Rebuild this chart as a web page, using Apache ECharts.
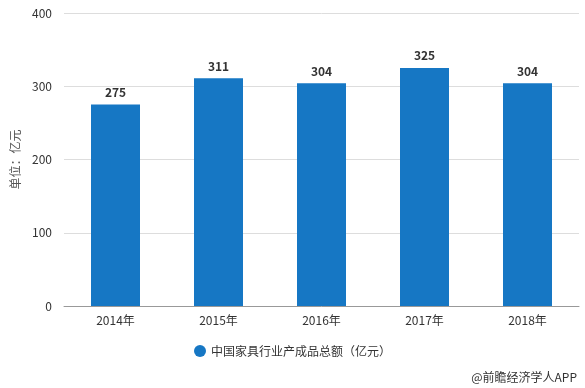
<!DOCTYPE html>
<html><head><meta charset="utf-8">
<script src="https://cdn.jsdelivr.net/npm/echarts@6/dist/echarts.min.js"></script>
<style>html,body{margin:0;padding:0;background:#fff}#c{width:585px;height:388px}</style>
</head><body><div id="c"></div>
<script>
var categories = ['2014年','2015年','2016年','2017年','2018年'];
var values = [275, 311, 304, 325, 304];
var seriesName = '中国家具行业产成品总额（亿元）';
var yTicks = {min: 0, max: 400, interval: 100};
var yName = '单位：亿元';
var credit = '@前瞻经济学人APP';

var chart = echarts.init(document.getElementById('c'));
chart.setOption({
  animation: false,
  textStyle: {fontFamily: '"Microsoft YaHei","Noto Sans CJK SC",sans-serif'},
  grid: {left: 64, right: 6, top: 13, bottom: 82},
  legend: {
    data: [seriesName], bottom: 26, left: 'center', icon: 'circle',
    itemWidth: 12, itemHeight: 12, itemGap: 6,
    textStyle: {fontSize: 12, color: '#333'}
  },
  graphic: [{type: 'text', right: 8, bottom: 5, style: {text: credit, fontSize: 12, fill: '#333', fontFamily: '"Noto Sans CJK SC",sans-serif'}}],
  xAxis: {
    type: 'category', data: categories,
    axisLine: {lineStyle: {color: '#999'}},
    axisTick: {alignWithLabel: true, lineStyle: {color: '#999'}},
    axisLabel: {color: '#333', fontSize: 12, margin: 8}
  },
  yAxis: {
    type: 'value', min: yTicks.min, max: yTicks.max, interval: yTicks.interval,
    name: yName, nameLocation: 'middle', nameGap: 40, nameRotate: 90,
    nameTextStyle: {color: '#555', fontSize: 12},
    axisLine: {show: false}, axisTick: {show: false},
    axisLabel: {color: '#333', fontSize: 12, margin: 12},
    splitLine: {lineStyle: {color: '#ddd'}}
  },
  series: [{
    name: seriesName, type: 'bar', data: values, barWidth: 49,
    itemStyle: {color: '#1677c4'},
    label: {show: true, position: 'top', fontWeight: 'bold', color: '#333', fontSize: 12, distance: 6}
  }]
});
</script></body></html>
